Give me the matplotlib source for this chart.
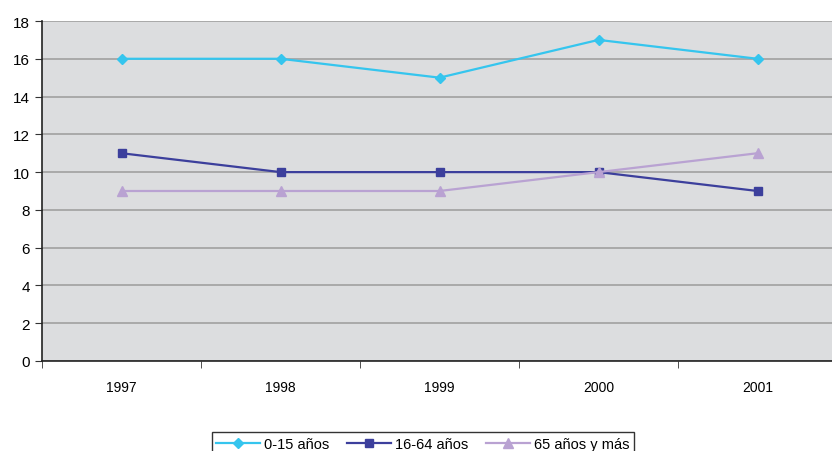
import matplotlib.pyplot as plt

plt.rcParams["font.family"] = ["Liberation Sans", "DejaVu Sans"]

# Datos
years = ["1997", "1998", "1999", "2000", "2001"]
edad_0_15 = [16, 16, 15, 17, 16]
edad_16_64 = [11, 10, 10, 10, 9]
edad_65_mas = [9, 9, 9, 10, 11]

fig = plt.figure(figsize=(8.32, 4.52), dpi=100)
ax = fig.add_axes([42 / 832, 90 / 452, 795 / 832, 340 / 452])
ax.set_facecolor("#dcdddf")

x = range(len(years))
ax.plot(x, edad_0_15, color="#35c5ee", marker="D", markersize=5.5, lw=1.6, label="0-15 años")
ax.plot(x, edad_16_64, color="#3c3f9c", marker="s", markersize=5.5, lw=1.6, label="16-64 años")
ax.plot(x, edad_65_mas, color="#b9a2d2", marker="^", markersize=7, lw=1.6, label="65 años y más")

ax.set_xlim(-0.5, 4.5)
ax.set_ylim(0, 18)
ax.set_yticks(range(0, 19, 2))
ax.set_xticks(list(x))
ax.set_xticklabels(years, fontsize=10)
ax.set_xticks([i + 0.5 for i in range(-1, 5)], minor=True)
ax.tick_params(axis="x", which="major", length=0, pad=14)
ax.tick_params(axis="x", which="minor", length=5, direction="out", color="#333333")
ax.tick_params(axis="y", labelsize=11, length=5, direction="out", color="#333333")

ax.grid(axis="y", color="#a0a0a0", lw=1.2)
ax.set_axisbelow(True)
for s in ["top", "right"]:
    ax.spines[s].set_visible(False)
ax.spines["left"].set_color("#222222")
ax.spines["bottom"].set_color("#222222")
ax.spines["left"].set_linewidth(1.2)
ax.spines["bottom"].set_linewidth(1.2)

leg = fig.legend(loc="upper center", bbox_to_anchor=(423 / 832, 1 - 426 / 452), ncol=3,
                 fontsize=10.5, frameon=True, fancybox=False, edgecolor="black",
                 handlelength=3.0, columnspacing=1.2, borderpad=0.3, handletextpad=0.3)
leg.get_frame().set_linewidth(1.0)

fig.savefig("out.png", dpi=100)
